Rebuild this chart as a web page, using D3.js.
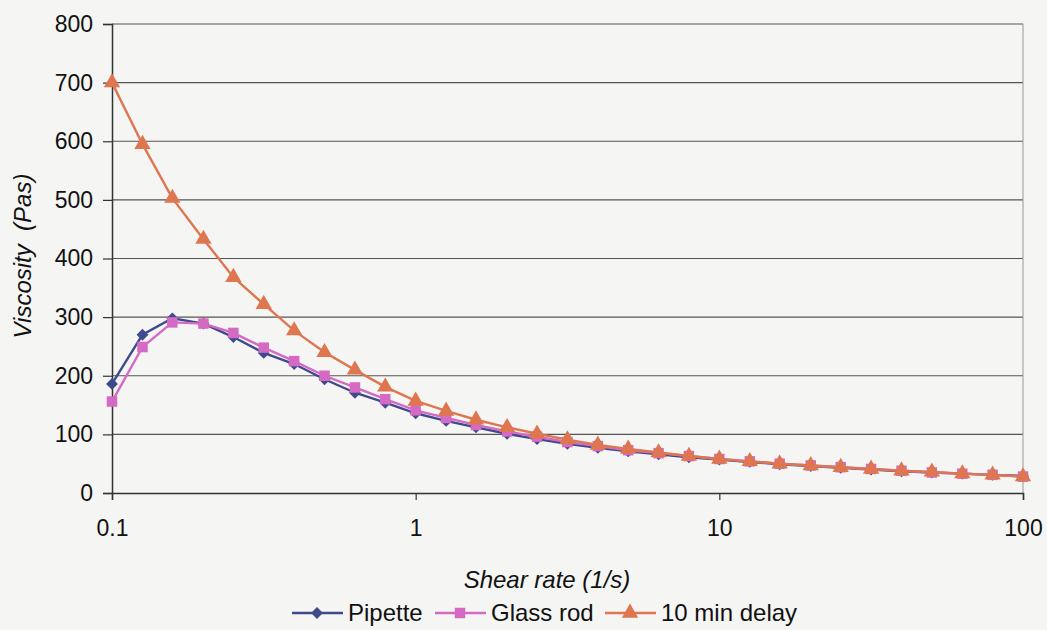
<!DOCTYPE html>
<html>
<head>
<meta charset="utf-8">
<script src="https://cdn.jsdelivr.net/npm/d3@7"></script>
<style>
  body { margin: 0; background: #f5f5f4; }
  text { font-family: "Liberation Sans", Arial, sans-serif; fill: #111; }
</style>
</head>
<body>
<script>
// shear rates: 10 points per decade, 0.1 .. 100
var shearRates = [0.1, 0.126, 0.158, 0.2, 0.251, 0.316, 0.398, 0.501, 0.631, 0.794,
  1, 1.26, 1.58, 2, 2.51, 3.16, 3.98, 5.01, 6.31, 7.94,
  10, 12.6, 15.8, 20, 25.1, 31.6, 39.8, 50.1, 63.1, 79.4, 100];

var pipette = [186, 270, 298, 289, 266, 239, 220, 194, 171, 154,
  136, 123, 112, 101, 92, 84, 77, 71, 66, 61,
  57, 53, 49, 46, 43, 40, 37, 35, 33, 31, 29];
var glassRod = [156, 249, 291, 289, 273, 248, 225, 200, 180, 160,
  141, 128, 116, 105, 96, 87, 80, 73, 68, 63,
  58, 54, 50, 47, 44, 41, 38, 35, 33, 31, 28];
var delay10 = [700, 595, 503, 433, 368, 322, 277, 240, 210, 181,
  157, 140, 125, 112, 101, 91, 82, 75, 69, 63,
  58, 54, 50, 47, 44, 41, 38, 36, 33, 31, 28];

var xTicks = [0.1, 1, 10, 100];
var yTicks = [0, 100, 200, 300, 400, 500, 600, 700, 800];

var width = 1047, height = 630;
var plotLeft = 112, plotRight = 1023, plotTop = 24, plotBottom = 493;

var svg = d3.select("body").append("svg")
  .attr("width", width)
  .attr("height", height);

var x = d3.scaleLog().domain([0.1, 100]).range([plotLeft, plotRight]);
var y = d3.scaleLinear().domain([0, 800]).range([plotBottom, plotTop]);

// gridlines
svg.append("g")
  .selectAll("line")
  .data(yTicks.slice(1))
  .enter().append("line")
    .attr("x1", plotLeft).attr("x2", plotRight)
    .attr("y1", function(d) { return y(d); })
    .attr("y2", function(d) { return y(d); })
    .attr("stroke", "#555")
    .attr("stroke-width", 1.2);

// right border
svg.append("line")
  .attr("x1", plotRight).attr("x2", plotRight)
  .attr("y1", plotTop).attr("y2", plotBottom)
  .attr("stroke", "#999").attr("stroke-width", 1);

// y axis
var yAxis = svg.append("g")
  .attr("transform", "translate(" + plotLeft + ",0)")
  .call(d3.axisLeft(y).tickValues(yTicks).tickSize(9).tickPadding(10));
yAxis.selectAll("text").style("font-size", "23px").attr("fill", "#111");

// x axis
var xAxis = svg.append("g")
  .attr("transform", "translate(0," + plotBottom + ")")
  .call(d3.axisBottom(x).tickValues(xTicks).tickFormat(d3.format("")).tickSize(7).tickPadding(20));
xAxis.selectAll("text").style("font-size", "23px").attr("fill", "#111");

svg.selectAll(".domain").attr("stroke", "#333").attr("stroke-width", 1.5);
svg.selectAll(".tick line").attr("stroke", "#333").attr("stroke-width", 1.2);

// diamond = square turned 45 degrees
var series = [
  { name: "Pipette", values: pipette, color: "#3e4a8c", shape: d3.symbolSquare, size: 70, rot: 45 },
  { name: "Glass rod", values: glassRod, color: "#d46ac4", shape: d3.symbolSquare, size: 110, rot: 0 },
  { name: "10 min delay", values: delay10, color: "#de7650", shape: d3.symbolTriangle, size: 115, rot: 0 }
];

var line = d3.line()
  .x(function(d) { return x(d[0]); })
  .y(function(d) { return y(d[1]); });

series.forEach(function(s) {
  var pts = shearRates.map(function(r, i) { return [r, s.values[i]]; });
  svg.append("path")
    .datum(pts)
    .attr("d", line)
    .attr("fill", "none")
    .attr("stroke", s.color)
    .attr("stroke-width", 2.4);
  svg.append("g")
    .selectAll("path")
    .data(pts)
    .enter().append("path")
      .attr("transform", function(d) { return "translate(" + x(d[0]) + "," + y(d[1]) + ") rotate(" + s.rot + ")"; })
      .attr("d", d3.symbol().type(s.shape).size(s.size))
      .attr("fill", s.color);
});

// axis titles
svg.append("text")
  .attr("x", 547).attr("y", 588)
  .attr("text-anchor", "middle")
  .style("font-size", "24px")
  .style("font-style", "italic")
  .text("Shear rate (1/s)");

svg.append("text")
  .attr("transform", "translate(31,256) rotate(-90)")
  .attr("text-anchor", "middle")
  .style("font-size", "24px")
  .style("font-style", "italic")
  .style("white-space", "pre")
  .text("Viscosity  (Pas)");

// legend
var legendX = [292, 435, 605];
var legend = svg.append("g");
series.forEach(function(s, i) {
  var g = legend.append("g").attr("transform", "translate(" + legendX[i] + ",613)");
  g.append("line").attr("x1", 0).attr("x2", 51).attr("y1", 0).attr("y2", 0)
    .attr("stroke", s.color).attr("stroke-width", 2.4);
  g.append("path").attr("transform", "translate(25,0) rotate(" + s.rot + ")")
    .attr("d", d3.symbol().type(s.shape).size(s.size)).attr("fill", s.color);
  g.append("text").attr("x", 56).attr("y", 8)
    .style("font-size", "24px")
    .text(s.name);
});
</script>
</body>
</html>
